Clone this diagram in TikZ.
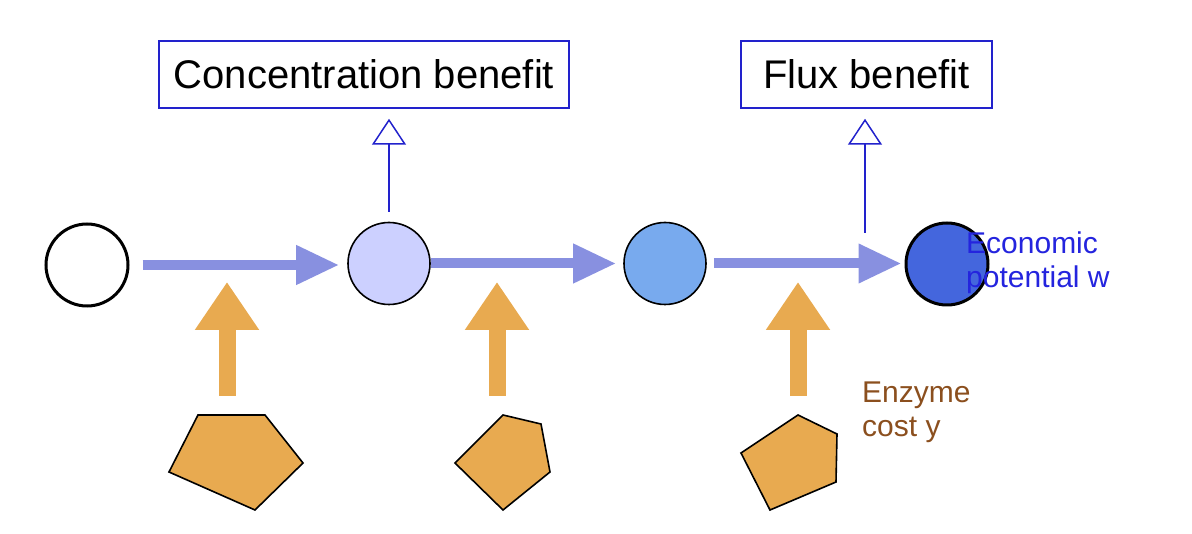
\documentclass[tikz,border=0pt]{standalone}
\usepackage{fontspec}
\setmainfont{Liberation Sans}
\usetikzlibrary{arrows.meta}
\definecolor{flowblue}{RGB}{136,144,224}
\definecolor{costorange}{RGB}{232,170,80}
\definecolor{benefitblue}{RGB}{34,34,204}
\definecolor{econblue}{RGB}{36,36,222}
\definecolor{enzbrown}{RGB}{139,79,30}
\definecolor{metA}{RGB}{204,208,255}
\definecolor{metB}{RGB}{120,170,238}
\definecolor{metC}{RGB}{68,102,221}
\tikzset{
  metab/.style={circle,draw=black,minimum size=82pt,inner sep=0pt},
  flow/.style={draw=flowblue,line width=10pt,-{Triangle[length=43pt,width=37pt]}},
  costarrow/.style={draw=costorange,line width=17pt,-{Triangle[length=48pt,width=61pt]}},
  enzyme/.style={fill=costorange,draw=black,line width=1.6pt,line join=miter},
  benefitbox/.style={draw=benefitblue,line width=1.5pt,minimum height=67pt,inner sep=0pt,font=\fontsize{40}{48}\selectfont},
  benefitarrow/.style={draw=benefitblue,line width=1.5pt,-{Triangle[open,length=26pt,width=34pt]}},
  lbl/.style={anchor=base west,inner sep=0pt,font=\fontsize{30}{34}\selectfont}
}
\begin{document}
\begin{tikzpicture}[x=1pt,y=-1pt]
\useasboundingbox (0,0) rectangle (1192,534);
% metabolites
\node[metab,line width=3pt] (m1) at (87,265) {};
\node[metab,fill=metA,line width=1.6pt] (m2) at (389,263.5) {};
\node[metab,fill=metB,line width=1.6pt] (m3) at (665,263.5) {};
\node[metab,fill=metC,line width=3pt] (m4) at (947,264) {};
% benefit boxes
\node[benefitbox,minimum width=410pt] (cb) at (364,74.5) {Concentration benefit};
\node[benefitbox,minimum width=251pt] (fb) at (866.5,74.5) {Flux benefit};
% reaction flows
\draw[flow,shorten <=13pt,shorten >=8pt] (m1.east) -- (m1.east -| m2.west);
\draw[flow,shorten >=7pt] (m2.east) -- (m2.east -| m3.west);
\draw[flow,shorten <=7pt,shorten >=3pt] (m3.east) -- (m3.east -| m4.west);
% benefit arrows
\draw[benefitarrow,shorten <=10pt,shorten >=10pt] (m2.north) -- (cb.south -| m2.north);
\coordinate (fstart) at (865,233);
\draw[benefitarrow,shorten >=10pt] (fstart) -- (fstart |- fb.south);
% enzymes
\draw[enzyme] (198,415) -- (265,415) -- (303,463) -- (255,510) -- (169,472) -- cycle;
\draw[enzyme] (503,415) -- (541,424) -- (550,472) -- (503,510) -- (455,463) -- cycle;
\draw[enzyme] (798,415) -- (837,434) -- (836,482) -- (770,510) -- (741,453) -- cycle;
\coordinate (e1) at (227,396); \coordinate (r1) at (227,282);
\coordinate (e2) at (497,396); \coordinate (r2) at (497,282);
\coordinate (e3) at (798,396); \coordinate (r3) at (798,282);
\draw[costarrow] (e1) -- (r1);
\draw[costarrow] (e2) -- (r2);
\draw[costarrow] (e3) -- (r3);
% labels
\node[lbl,text=econblue,align=left] (econ) at (966,288) {Economic\\potential w};
\node[lbl,text=enzbrown,align=left] (cost) at (862,437) {Enzyme\\cost y};
\end{tikzpicture}
\end{document}
